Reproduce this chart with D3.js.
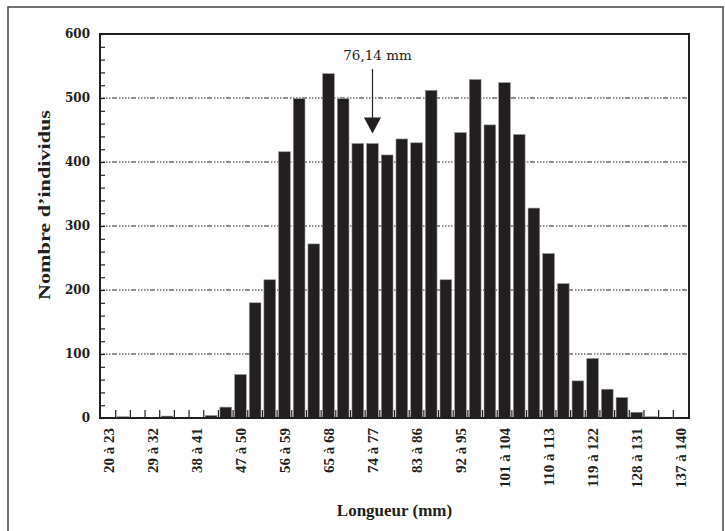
<!DOCTYPE html>
<html>
<head>
<meta charset="utf-8">
<script src="https://cdn.jsdelivr.net/npm/d3@7"></script>
<style>
  body { margin: 0; background: #fff; }
</style>
</head>
<body>
<svg id="chart"></svg>
<script>
// Length classes (start of each 3 mm class) and counts per class
const binStarts = [20, 23, 26, 29, 32, 35, 38, 41, 44, 47, 50, 53, 56, 59, 62, 65, 68, 71, 74, 77,
  80, 83, 86, 89, 92, 95, 98, 101, 104, 107, 110, 113, 116, 119, 122, 125, 128, 131, 134, 137];
const counts = [0, 2, 0, 0, 3, 0, 0, 4, 17, 68, 180, 216, 416, 499, 272, 538, 499, 429, 429, 411,
  436, 430, 512, 216, 446, 529, 458, 524, 443, 328, 257, 210, 58, 93, 45, 32, 9, 2, 0, 0];
const tickLabels = ['20 à 23', '29 à 32', '38 à 41', '47 à 50', '56 à 59', '65 à 68', '74 à 77',
  '83 à 86', '92 à 95', '101 à 104', '110 à 113', '119 à 122', '128 à 131', '137 à 140'];
const yTicks = [0, 100, 200, 300, 400, 500, 600];
const meanLength = 76.14;

const data = binStarts.map((s, i) => ({ label: `${s} à ${s + 3}`, start: s, count: counts[i] }));

const width = 725, height = 531;
const margin = { top: 34, right: 36, bottom: 113, left: 100 };
const innerW = width - margin.left - margin.right;
const innerH = height - margin.top - margin.bottom;

const svg = d3.select('#chart')
  .attr('width', width)
  .attr('height', height);

// outer frame
svg.append('rect')
  .attr('x', 8).attr('y', 7)
  .attr('width', 715).attr('height', 530)
  .attr('fill', 'none')
  .attr('stroke', '#444')
  .attr('stroke-width', 1.5);

const g = svg.append('g')
  .attr('transform', `translate(${margin.left},${margin.top})`);

const x = d3.scaleBand()
  .domain(data.map(d => d.label))
  .range([0, innerW])
  .paddingInner(0.2)
  .paddingOuter(0.17);

const y = d3.scaleLinear()
  .domain([0, 600])
  .range([innerH, 0]);

// dotted grid lines
g.append('g')
  .selectAll('line')
  .data(yTicks.filter(v => v > 0 && v < 600))
  .join('line')
  .attr('x1', 0).attr('x2', innerW)
  .attr('y1', d => y(d)).attr('y2', d => y(d))
  .attr('stroke', '#222')
  .attr('stroke-width', 1)
  .attr('stroke-dasharray', '1.5,1.5,1.5,1.5,1.5,1.5,1.5,1.5,5,2');

// bars
g.append('g')
  .selectAll('rect')
  .data(data.filter(d => d.count > 0))
  .join('rect')
  .attr('x', d => x(d.label))
  .attr('y', d => y(d.count))
  .attr('width', x.bandwidth())
  .attr('height', d => innerH - y(d.count))
  .attr('fill', '#231f20')
  .attr('stroke', '#9a9a9a')
  .attr('stroke-width', 0.6);

// x ticks between classes, pointing up
const gap = x.step() - x.bandwidth();
g.append('g')
  .selectAll('line')
  .data(data.slice(1))
  .join('line')
  .attr('x1', d => x(d.label) - gap / 2)
  .attr('x2', d => x(d.label) - gap / 2)
  .attr('y1', innerH)
  .attr('y2', innerH - 8)
  .attr('stroke', '#231f20')
  .attr('stroke-width', 1.2);

// y axis: inward ticks every 20, labels every 100
const yAxis = d3.axisLeft(y)
  .tickValues(d3.range(0, 601, 20))
  .tickSizeInner(-5)
  .tickSizeOuter(0)
  .tickPadding(10)
  .tickFormat(d => (d % 100 === 0 ? d : ''));

const yg = g.append('g').call(yAxis);
yg.select('.domain').remove();
yg.selectAll('line').attr('stroke', '#231f20').attr('stroke-width', 1.2);
yg.selectAll('text')
  .attr('fill', '#231f20')
  .style('font-family', '"DejaVu Serif", serif')
  .style('font-weight', 'bold')
  .style('font-size', '12px');

// x axis labels (every third class), rotated
const xg = g.append('g')
  .attr('transform', `translate(0,${innerH})`)
  .call(d3.axisBottom(x).tickValues(tickLabels).tickSize(0));
xg.select('.domain').remove();
xg.selectAll('text')
  .attr('transform', 'rotate(-90)')
  .attr('text-anchor', 'end')
  .attr('x', -10)
  .attr('y', 0)
  .attr('dy', '0.35em')
  .attr('fill', '#231f20')
  .style('font-family', '"Liberation Serif", serif')
  .style('font-weight', 'bold')
  .style('font-size', '15px');

// plot box
g.append('rect')
  .attr('width', innerW)
  .attr('height', innerH)
  .attr('fill', 'none')
  .attr('stroke', '#231f20')
  .attr('stroke-width', 2);

// mean annotation
const meanBin = data.find(d => meanLength >= d.start && meanLength < d.start + 3);
const ax = x(meanBin.label) + x.bandwidth() / 2;
const tipY = y(meanBin.count) - 10;
g.append('line')
  .attr('x1', ax).attr('x2', ax)
  .attr('y1', 35).attr('y2', tipY - 14)
  .attr('stroke', '#231f20')
  .attr('stroke-width', 1.2);
g.append('path')
  .attr('d', `M${ax - 8.5},${tipY - 16}L${ax + 8.5},${tipY - 16}L${ax},${tipY}Z`)
  .attr('fill', '#231f20');
g.append('text')
  .attr('x', ax + 5)
  .attr('y', 26)
  .attr('text-anchor', 'middle')
  .attr('fill', '#231f20')
  .style('font-family', '"DejaVu Serif", serif')
  .style('font-size', '13.5px')
  .text(`${String(meanLength).replace('.', ',')} mm`);

// axis titles
svg.append('text')
  .attr('transform', 'translate(50,205) rotate(-90)')
  .attr('text-anchor', 'middle')
  .attr('textLength', 190)
  .attr('lengthAdjust', 'spacingAndGlyphs')
  .attr('fill', '#231f20')
  .style('font-family', '"Liberation Serif", serif')
  .style('font-weight', 'bold')
  .style('font-size', '17px')
  .text('Nombre d\u2019individus');

svg.append('text')
  .attr('x', margin.left + innerW / 2)
  .attr('y', 516)
  .attr('text-anchor', 'middle')
  .attr('fill', '#231f20')
  .style('font-family', '"Liberation Serif", serif')
  .style('font-weight', 'bold')
  .style('font-size', '17px')
  .text('Longueur (mm)');
</script>
</body>
</html>
